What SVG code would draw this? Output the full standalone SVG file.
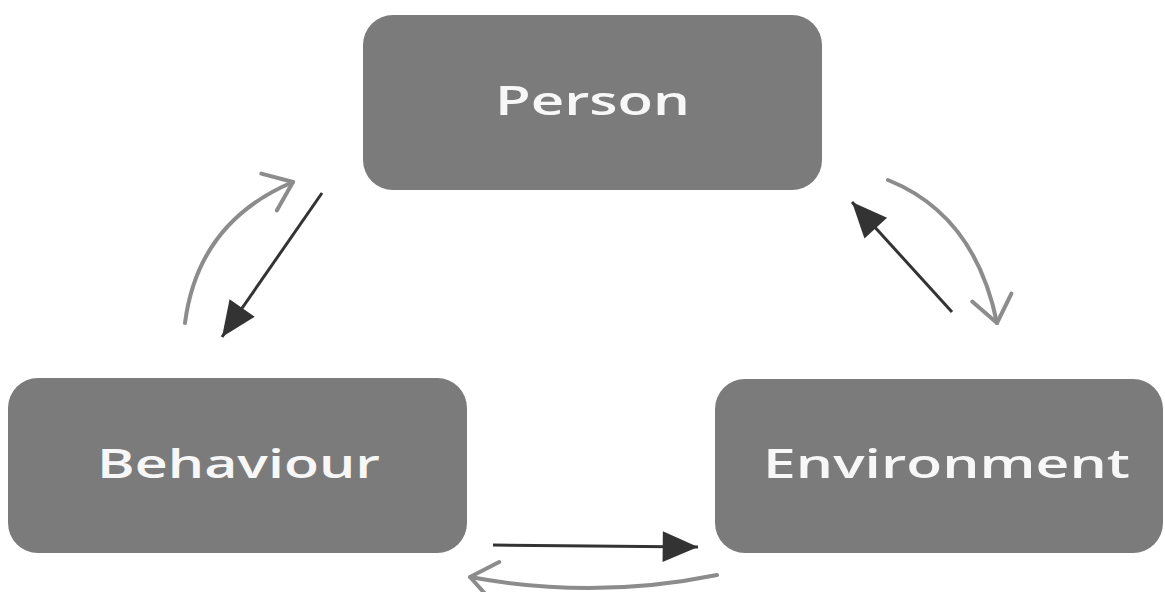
<svg xmlns="http://www.w3.org/2000/svg" width="1165" height="592" viewBox="0 0 1165 592">
  <style>
    .box { fill: #7b7b7b; }
    .label { fill: #f7f7f7; font-family: "Open Sans", "DejaVu Sans", sans-serif; font-size: 40px; font-weight: 600; }
    .dark { stroke: #333333; stroke-width: 3; fill: none; }
    .light { stroke: #8c8c8c; stroke-width: 4; fill: none; stroke-linecap: round; }
  </style>
  <defs>
    <marker id="solidHead" markerUnits="userSpaceOnUse" markerWidth="40" markerHeight="40" viewBox="-32 -16 34 32" refX="0" refY="0" orient="auto">
      <path d="M -30 -13 L 0 0 L -30 13 Z" fill="#333333"/>
    </marker>
    <marker id="openHead" markerUnits="userSpaceOnUse" markerWidth="60" markerHeight="60" viewBox="-30 -30 34 60" refX="0" refY="0" orient="auto">
      <path d="M -26 -20 L 0 0 L -26 20" fill="none" stroke="#8c8c8c" stroke-width="4" stroke-linecap="round" stroke-linejoin="round"/>
    </marker>
  </defs>
  <rect width="1165" height="592" fill="#ffffff"/>
  <g id="person">
    <rect class="box" x="363" y="15" width="459" height="175" rx="30"/>
    <text class="label" x="495" y="115" textLength="195" lengthAdjust="spacingAndGlyphs">Person</text>
  </g>
  <g id="behaviour">
    <rect class="box" x="8" y="378" width="459" height="175" rx="30"/>
    <text class="label" x="97" y="478" textLength="283" lengthAdjust="spacingAndGlyphs">Behaviour</text>
  </g>
  <g id="environment">
    <rect class="box" x="715" y="379" width="448" height="174" rx="30"/>
    <text class="label" x="763" y="478" textLength="367" lengthAdjust="spacingAndGlyphs">Environment</text>
  </g>
  <g id="connectors">
    <line class="dark" x1="322" y1="193" x2="222" y2="337" marker-end="url(#solidHead)"/>
    <path class="light" d="M 185 323 Q 198 222 293 182" marker-end="url(#openHead)"/>
    <line class="dark" x1="952" y1="312" x2="852" y2="202" marker-end="url(#solidHead)"/>
    <path class="light" d="M 888 180 Q 975 215 997 323" marker-end="url(#openHead)"/>
    <line class="dark" x1="493" y1="545" x2="698" y2="547" marker-end="url(#solidHead)"/>
    <path class="light" d="M 717 575 Q 595 600 470 577" marker-end="url(#openHead)"/>
  </g>
</svg>
